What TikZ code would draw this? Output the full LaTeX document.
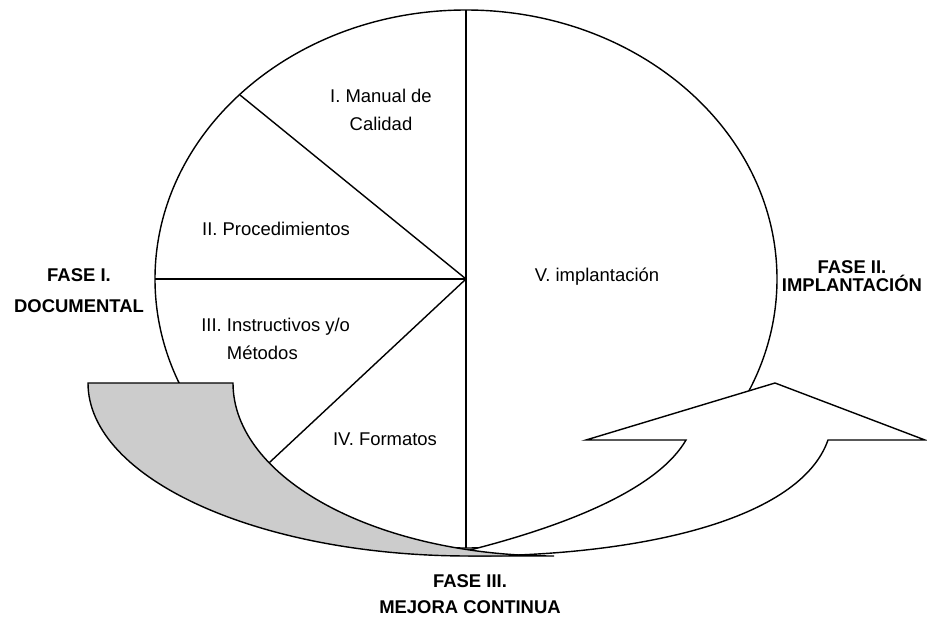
\documentclass[tikz,border=0pt]{standalone}
\usepackage{fontspec}
\setmainfont{Liberation Sans}
\definecolor{tailgray}{RGB}{204,204,204}
\begin{document}
\begin{tikzpicture}[x=0.02cm, y=-0.02cm,
    line/.style={line width=0.8pt, line join=miter},
    lbl/.style={font=\fontsize{10.5}{12.5}\selectfont, inner sep=0pt},
    phase/.style={font=\fontsize{10.5}{12.5}\selectfont\bfseries, align=center, inner sep=0pt}]
  \useasboundingbox (0,0) rectangle (927,619);

  % Hub and ends of the spokes
  \coordinate (hub) at (466,279);
  \coordinate (top) at (466,10);
  \coordinate (bot) at (466,548);
  \coordinate (ul) at (240,95);
  \coordinate (lft) at (155,279);
  \coordinate (ll) at (255,476);

  % Drawing the ellipse
  \draw [line] (hub) ellipse [x radius=311, y radius=269];

  % Drawing the spokes
  \draw [line] (top) -- (bot);
  \draw [line] (hub) -- (ul);
  \draw [line] (hub) -- (lft);
  \draw [line] (hub) -- (ll);

  % Marking the sectors
  \node [lbl, align=center] (manual) at (381,110) {I. Manual de\\[3.5pt]Calidad};
  \node [lbl] (proc) at (276,229) {II. Procedimientos};
  \node [lbl, align=left, anchor=west] (instr) at (201,339) {III. Instructivos y/o\\[3.5pt]\phantom{III. }Métodos};
  \node [lbl] (form) at (385,439) {IV. Formatos};
  \node [lbl] (impl) at (597,277) {V. implantación};

  % Drawing the white arrow
  \draw [line, fill=white] (470,550) .. controls (580,522) and (660,485) .. (686,440)
    -- (586,440) -- (775,383) -- (925,440) -- (828,440)
    .. controls (800,520) and (640,556) .. (469,556) -- cycle;

  % Drawing the gray tail
  \draw [line, fill=tailgray] (88,383) -- (233,383)
    arc [start angle=180, end angle=90, x radius=321, y radius=173]
    -- (469,556)
    arc [start angle=90, end angle=180, x radius=381, y radius=173] -- cycle;

  % Marking the phases
  \node [phase] (fase1) at (79,291) {FASE I.\\[5pt]DOCUMENTAL};
  \node [phase] (fase2) at (852,276) {FASE II.\\[-2.5pt]IMPLANTACIÓN};
  \node [phase] (fase3) at (470,594) {FASE III.\\[2.5pt]MEJORA CONTINUA};
\end{tikzpicture}
\end{document}
